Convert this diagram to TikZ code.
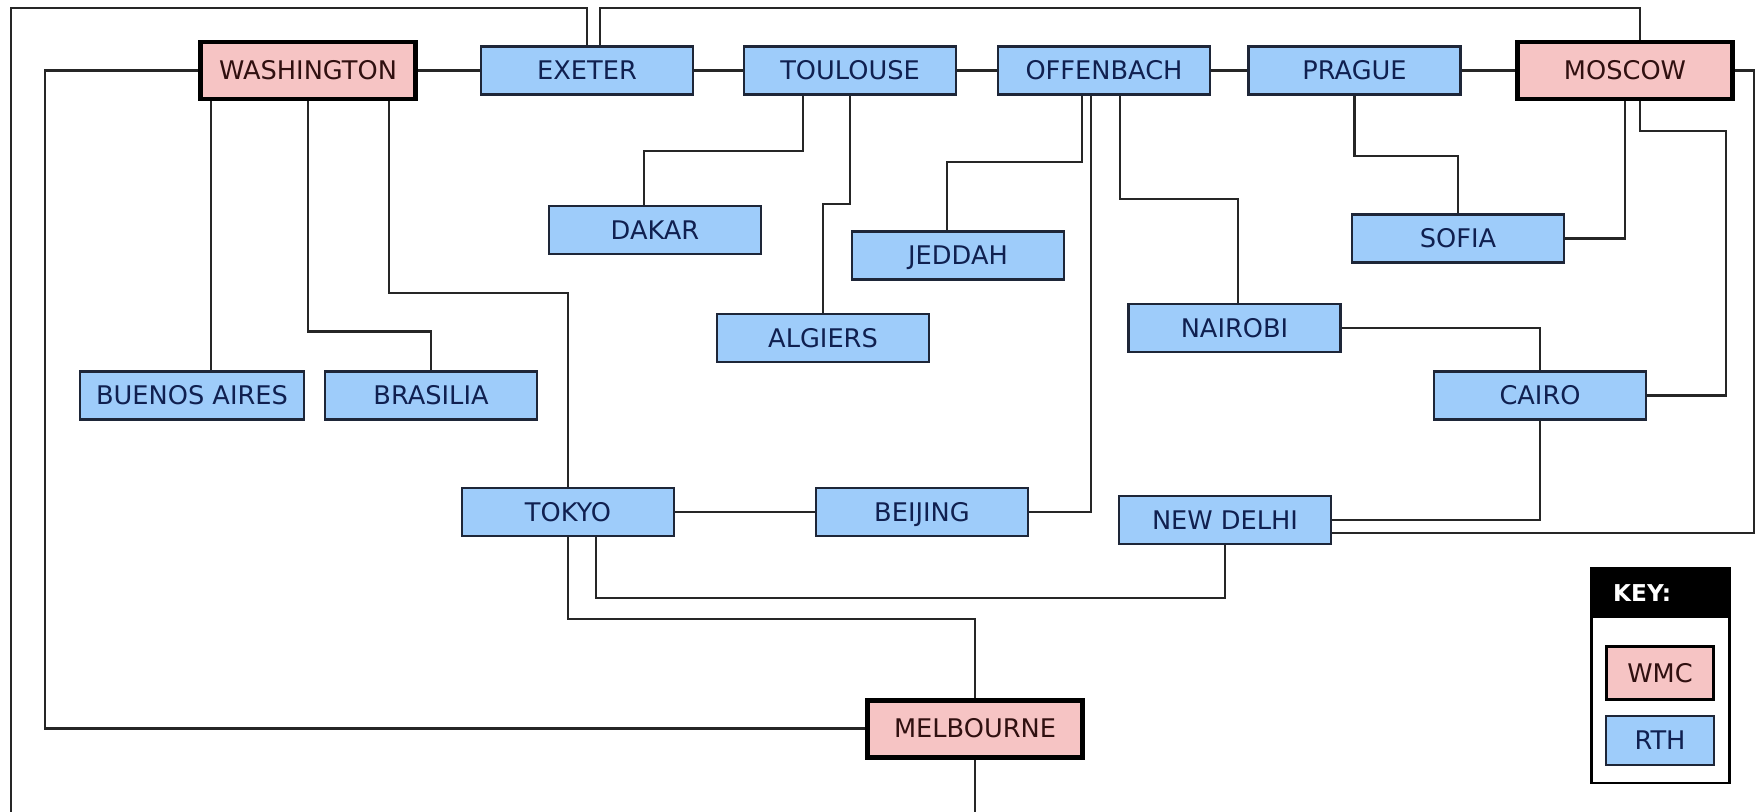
\documentclass[tikz,border=0pt]{standalone}
\usepackage{fontspec}
\setmainfont{DejaVu Sans}
\definecolor{rthblue}{RGB}{158,204,250}
\definecolor{wmcpink}{RGB}{246,196,196}
\definecolor{rthtext}{RGB}{16,32,80}
\definecolor{wmctext}{RGB}{48,16,16}
\definecolor{boxline}{RGB}{30,38,56}
\tikzset{rth/.style={draw=boxline, line width=0.6pt, fill=rthblue, text=rthtext, minimum width=2.12cm, minimum height=0.48cm, inner sep=0pt, text height=5.3pt, text depth=0pt, font=\fontsize{7.3}{9}\selectfont},
 wmc/.style={draw=black, line width=1.42pt, fill=wmcpink, text=wmctext, minimum width=2.15cm, minimum height=0.57cm, inner sep=0pt, text height=5.3pt, text depth=0pt, font=\fontsize{7.3}{9}\selectfont},
 link/.style={black!85, line width=0.6pt}}

\begin{document}
\begin{tikzpicture}
   \clip (0,0) rectangle (17.56,-8.11);
   % top row
   \node[wmc] (wash) at ( 3.08,-0.705) {WASHINGTON};
   \node[rth] (exe)  at ( 5.87,-0.705) {EXETER};
   \node[rth] (tou)  at ( 8.50,-0.705) {TOULOUSE};
   \node[rth] (off)  at (11.04,-0.705) {OFFENBACH};
   \node[rth] (pra)  at (13.545,-0.705) {PRAGUE};
   \node[wmc] (mos)  at (16.25,-0.705) {MOSCOW};
   % second level
   \node[rth] (dak)  at ( 6.55,-2.30) {DAKAR};
   \node[rth] (jed)  at ( 9.58,-2.555) {JEDDAH};
   \node[rth] (alg)  at ( 8.23,-3.377) {ALGIERS};
   \node[rth] (sof)  at (14.58,-2.385) {SOFIA};
   \node[rth] (nai)  at (12.345,-3.28) {NAIROBI};
   \node[rth] (cai)  at (15.40,-3.955) {CAIRO};
   \node[rth, minimum width=2.24cm] (bue) at (1.92,-3.955) {BUENOS AIRES};
   \node[rth] (bra)  at ( 4.31,-3.955) {BRASILIA};
   % lower rows
   \node[rth] (tok)  at ( 5.68,-5.12) {TOKYO};
   \node[rth] (bei)  at ( 9.22,-5.12) {BEIJING};
   \node[rth] (ndl)  at (12.25,-5.20) {NEW DELHI};
   \node[wmc] (mel)  at ( 9.75,-7.285) {MELBOURNE};
   % links
   \draw[link] (wash) -- (exe);
   \draw[link] (exe) -- (tou);
   \draw[link] (tou) -- (off);
   \draw[link] (off) -- (pra);
   \draw[link] (pra) -- (mos);
   \draw[link] (2.11,0 |- wash.south) -- (2.11,0 |- bue.north);
   \draw[link] (wash.south) -- ++(0,-2.30) -| (bra.north);
   \draw[link] (3.89,0 |- wash.south) -- (3.89,-2.93) -| (tok.north);
   \draw[link] (wash.west) -- (0.45,0 |- wash.west) |- (mel.west);
   \draw[link] (exe.north) |- (0.107,-0.083) -- (0.107,-8.3) -| (mel.south);
   \draw[link] ([xshift=0.13cm]exe.north) |- (16.40,-0.083) -- (16.40,0 |- mos.north);
   \draw[link] (8.03,0 |- tou.south) |- (6.44,-1.507) -- (6.44,0 |- dak.north);
   \draw[link] (tou.south) -- ++(0,-1.08) -| (alg.north);
   \draw[link] (10.82,0 |- off.south) |- (9.47,-1.62) -- (9.47,0 |- jed.north);
   \draw[link] (10.91,0 |- off.south) |- (bei.east);
   \draw[link] (11.20,0 |- off.south) |- (12.38,-1.99) -- (12.38,0 |- nai.north);
   \draw[link] (pra.south) -- ++(0,-0.60) -| (sof.north);
   \draw[link] (mos.south) |- (sof.east);
   \draw[link] (16.40,0 |- mos.south) |- (17.26,-1.31) |- (cai.east);
   \draw[link] (mos.east) -| (17.54,-5.33) -- ([yshift=-0.13cm]ndl.east);
   \draw[link] (cai.south) |- (ndl.east);
   \draw[link] (nai.east) -| (cai.north);
   \draw[link] (tok) -- (bei);
   \draw[link] (ndl.south) -- ++(0,-0.527) -| (5.96,0 |- tok.south);
   \draw[link] (tok.south) -- ++(0,-0.82) -| (mel.north);
   % key
   \node[draw=black, line width=0.6pt, minimum width=1.38cm, minimum height=2.15cm, inner sep=0pt] (key) at (16.605,-6.752) {};
   \fill[black] (key.north west) rectangle ([yshift=-0.513cm]key.north east);
   \node[anchor=west, inner sep=0pt, text=white, font=\bfseries\fontsize{6.6}{8}\selectfont] (keyhd) at ([xshift=0.22cm,yshift=-0.26cm]key.north west) {KEY:};
   \node[wmc, line width=1.1pt, minimum width=1.07cm, minimum height=0.53cm] (kwmc) at (16.60,-6.73) {WMC};
   \node[rth, minimum width=1.08cm, minimum height=0.49cm] (krth) at (16.60,-7.405) {RTH};
\end{tikzpicture}
\end{document}
